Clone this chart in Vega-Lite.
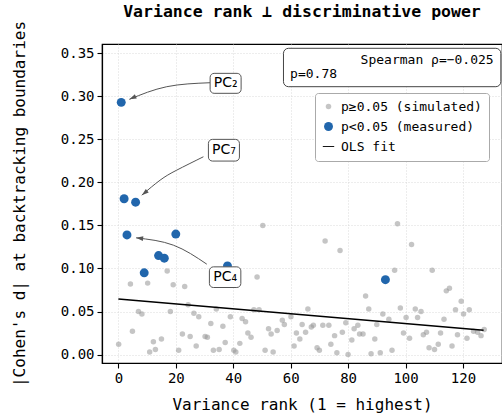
{
  "$schema": "https://vega.github.io/schema/vega-lite/v6.json",
  "width": 400,
  "height": 319,
  "autosize": {"type": "none"},
  "padding": {"left": 102, "top": 44, "right": 0, "bottom": 55},
  "background": "white",
  "config": {
    "view": {"stroke": "black", "strokeWidth": 1.2},
    "font": "DejaVu Sans Mono",
    "axis": {
      "labelFont": "DejaVu Sans Mono", "labelFontSize": 14, "labelColor": "black",
      "titleFont": "DejaVu Sans Mono", "titleFontSize": 16, "titleFontWeight": "normal", "titleColor": "black",
      "domainColor": "black", "domainWidth": 1.2, "tickColor": "black", "tickSize": 5, "tickWidth": 1.1,
      "gridColor": "#d0d0d0", "gridDash": [1, 2], "gridWidth": 0.8, "labelPadding": 3
    },
    "legend": {
      "labelFont": "DejaVu Sans Mono", "labelFontSize": 13, "labelColor": "black", "labelOffset": 6, "rowPadding": 6,
      "padding": 7, "strokeColor": "#aaaaaa", "cornerRadius": 3, "fillColor": "white"
    }
  },
  "title": {"text": "Variance rank \u22a5 discriminative power", "font": "DejaVu Sans Mono", "fontSize": 16.5, "fontWeight": "bold", "anchor": "middle", "offset": 0, "color": "black"},
  "datasets": {
    "pts": [
      {"rank": 4.2, "d": 0.082, "group": "p\u22650.05 (simulated)"},
      {"rank": 10.2, "d": 0.083, "group": "p\u22650.05 (simulated)"},
      {"rank": 19.1, "d": 0.081, "group": "p\u22650.05 (simulated)"},
      {"rank": 23.1, "d": 0.079, "group": "p\u22650.05 (simulated)"},
      {"rank": 24.3, "d": 0.058, "group": "p\u22650.05 (simulated)"},
      {"rank": 7.0, "d": 0.050, "group": "p\u22650.05 (simulated)"},
      {"rank": 8.2, "d": 0.047, "group": "p\u22650.05 (simulated)"},
      {"rank": 18.1, "d": 0.050, "group": "p\u22650.05 (simulated)"},
      {"rank": 26.3, "d": 0.048, "group": "p\u22650.05 (simulated)"},
      {"rank": 28.0, "d": 0.044, "group": "p\u22650.05 (simulated)"},
      {"rank": 4.9, "d": 0.027, "group": "p\u22650.05 (simulated)"},
      {"rank": 22.3, "d": 0.024, "group": "p\u22650.05 (simulated)"},
      {"rank": 25.0, "d": 0.021, "group": "p\u22650.05 (simulated)"},
      {"rank": 0.1, "d": 0.012, "group": "p\u22650.05 (simulated)"},
      {"rank": 12.2, "d": 0.015, "group": "p\u22650.05 (simulated)"},
      {"rank": 15.0, "d": 0.018, "group": "p\u22650.05 (simulated)"},
      {"rank": 27.1, "d": 0.010, "group": "p\u22650.05 (simulated)"},
      {"rank": 10.9, "d": 0.003, "group": "p\u22650.05 (simulated)"},
      {"rank": 12.9, "d": 0.006, "group": "p\u22650.05 (simulated)"},
      {"rank": 21.0, "d": 0.005, "group": "p\u22650.05 (simulated)"},
      {"rank": 50.3, "d": 0.150, "group": "p\u22650.05 (simulated)"},
      {"rank": 17.0, "d": 0.097, "group": "p\u22650.05 (simulated)"},
      {"rank": 48.3, "d": 0.090, "group": "p\u22650.05 (simulated)"},
      {"rank": 34.1, "d": 0.053, "group": "p\u22650.05 (simulated)"},
      {"rank": 32.2, "d": 0.036, "group": "p\u22650.05 (simulated)"},
      {"rank": 36.4, "d": 0.033, "group": "p\u22650.05 (simulated)"},
      {"rank": 39.0, "d": 0.044, "group": "p\u22650.05 (simulated)"},
      {"rank": 43.1, "d": 0.042, "group": "p\u22650.05 (simulated)"},
      {"rank": 44.3, "d": 0.038, "group": "p\u22650.05 (simulated)"},
      {"rank": 47.2, "d": 0.052, "group": "p\u22650.05 (simulated)"},
      {"rank": 49.0, "d": 0.052, "group": "p\u22650.05 (simulated)"},
      {"rank": 45.1, "d": 0.025, "group": "p\u22650.05 (simulated)"},
      {"rank": 46.2, "d": 0.020, "group": "p\u22650.05 (simulated)"},
      {"rank": 52.3, "d": 0.030, "group": "p\u22650.05 (simulated)"},
      {"rank": 53.2, "d": 0.024, "group": "p\u22650.05 (simulated)"},
      {"rank": 55.3, "d": 0.028, "group": "p\u22650.05 (simulated)"},
      {"rank": 57.1, "d": 0.040, "group": "p\u22650.05 (simulated)"},
      {"rank": 57.8, "d": 0.035, "group": "p\u22650.05 (simulated)"},
      {"rank": 60.1, "d": 0.044, "group": "p\u22650.05 (simulated)"},
      {"rank": 30.2, "d": 0.021, "group": "p\u22650.05 (simulated)"},
      {"rank": 31.0, "d": 0.020, "group": "p\u22650.05 (simulated)"},
      {"rank": 37.2, "d": 0.014, "group": "p\u22650.05 (simulated)"},
      {"rank": 42.3, "d": 0.013, "group": "p\u22650.05 (simulated)"},
      {"rank": 33.1, "d": 0.005, "group": "p\u22650.05 (simulated)"},
      {"rank": 35.1, "d": 0.006, "group": "p\u22650.05 (simulated)"},
      {"rank": 40.2, "d": 0.005, "group": "p\u22650.05 (simulated)"},
      {"rank": 40.9, "d": 0.003, "group": "p\u22650.05 (simulated)"},
      {"rank": 51.1, "d": 0.005, "group": "p\u22650.05 (simulated)"},
      {"rank": 53.9, "d": 0.003, "group": "p\u22650.05 (simulated)"},
      {"rank": 86.1, "d": 0.068, "group": "p\u22650.05 (simulated)"},
      {"rank": 87.2, "d": 0.053, "group": "p\u22650.05 (simulated)"},
      {"rank": 66.0, "d": 0.053, "group": "p\u22650.05 (simulated)"},
      {"rank": 92.1, "d": 0.047, "group": "p\u22650.05 (simulated)"},
      {"rank": 94.2, "d": 0.041, "group": "p\u22650.05 (simulated)"},
      {"rank": 64.0, "d": 0.035, "group": "p\u22650.05 (simulated)"},
      {"rank": 67.2, "d": 0.032, "group": "p\u22650.05 (simulated)"},
      {"rank": 67.9, "d": 0.034, "group": "p\u22650.05 (simulated)"},
      {"rank": 71.2, "d": 0.034, "group": "p\u22650.05 (simulated)"},
      {"rank": 73.3, "d": 0.034, "group": "p\u22650.05 (simulated)"},
      {"rank": 79.2, "d": 0.037, "group": "p\u22650.05 (simulated)"},
      {"rank": 82.1, "d": 0.030, "group": "p\u22650.05 (simulated)"},
      {"rank": 83.4, "d": 0.034, "group": "p\u22650.05 (simulated)"},
      {"rank": 90.0, "d": 0.035, "group": "p\u22650.05 (simulated)"},
      {"rank": 62.0, "d": 0.025, "group": "p\u22650.05 (simulated)"},
      {"rank": 65.2, "d": 0.026, "group": "p\u22650.05 (simulated)"},
      {"rank": 63.2, "d": 0.018, "group": "p\u22650.05 (simulated)"},
      {"rank": 75.3, "d": 0.022, "group": "p\u22650.05 (simulated)"},
      {"rank": 78.0, "d": 0.026, "group": "p\u22650.05 (simulated)"},
      {"rank": 84.0, "d": 0.024, "group": "p\u22650.05 (simulated)"},
      {"rank": 85.2, "d": 0.024, "group": "p\u22650.05 (simulated)"},
      {"rank": 81.3, "d": 0.017, "group": "p\u22650.05 (simulated)"},
      {"rank": 89.3, "d": 0.018, "group": "p\u22650.05 (simulated)"},
      {"rank": 61.2, "d": 0.010, "group": "p\u22650.05 (simulated)"},
      {"rank": 74.0, "d": 0.012, "group": "p\u22650.05 (simulated)"},
      {"rank": 69.2, "d": 0.008, "group": "p\u22650.05 (simulated)"},
      {"rank": 70.0, "d": 0.005, "group": "p\u22650.05 (simulated)"},
      {"rank": 76.1, "d": 0.002, "group": "p\u22650.05 (simulated)"},
      {"rank": 80.0, "d": 0.000, "group": "p\u22650.05 (simulated)"},
      {"rank": 88.0, "d": 0.001, "group": "p\u22650.05 (simulated)"},
      {"rank": 91.2, "d": 0.002, "group": "p\u22650.05 (simulated)"},
      {"rank": 114.2, "d": 0.074, "group": "p\u22650.05 (simulated)"},
      {"rank": 115.3, "d": 0.077, "group": "p\u22650.05 (simulated)"},
      {"rank": 119.4, "d": 0.062, "group": "p\u22650.05 (simulated)"},
      {"rank": 98.2, "d": 0.054, "group": "p\u22650.05 (simulated)"},
      {"rank": 103.4, "d": 0.053, "group": "p\u22650.05 (simulated)"},
      {"rank": 105.4, "d": 0.050, "group": "p\u22650.05 (simulated)"},
      {"rank": 117.4, "d": 0.052, "group": "p\u22650.05 (simulated)"},
      {"rank": 122.2, "d": 0.052, "group": "p\u22650.05 (simulated)"},
      {"rank": 100.2, "d": 0.043, "group": "p\u22650.05 (simulated)"},
      {"rank": 104.2, "d": 0.043, "group": "p\u22650.05 (simulated)"},
      {"rank": 120.2, "d": 0.047, "group": "p\u22650.05 (simulated)"},
      {"rank": 113.4, "d": 0.041, "group": "p\u22650.05 (simulated)"},
      {"rank": 99.3, "d": 0.025, "group": "p\u22650.05 (simulated)"},
      {"rank": 101.4, "d": 0.019, "group": "p\u22650.05 (simulated)"},
      {"rank": 106.2, "d": 0.023, "group": "p\u22650.05 (simulated)"},
      {"rank": 107.3, "d": 0.026, "group": "p\u22650.05 (simulated)"},
      {"rank": 112.2, "d": 0.025, "group": "p\u22650.05 (simulated)"},
      {"rank": 118.1, "d": 0.023, "group": "p\u22650.05 (simulated)"},
      {"rank": 121.4, "d": 0.019, "group": "p\u22650.05 (simulated)"},
      {"rank": 123.7, "d": 0.027, "group": "p\u22650.05 (simulated)"},
      {"rank": 125.1, "d": 0.026, "group": "p\u22650.05 (simulated)"},
      {"rank": 126.3, "d": 0.022, "group": "p\u22650.05 (simulated)"},
      {"rank": 127.4, "d": 0.029, "group": "p\u22650.05 (simulated)"},
      {"rank": 95.3, "d": 0.005, "group": "p\u22650.05 (simulated)"},
      {"rank": 108.2, "d": 0.008, "group": "p\u22650.05 (simulated)"},
      {"rank": 110.1, "d": 0.006, "group": "p\u22650.05 (simulated)"},
      {"rank": 111.4, "d": 0.012, "group": "p\u22650.05 (simulated)"},
      {"rank": 116.2, "d": 0.010, "group": "p\u22650.05 (simulated)"},
      {"rank": 97.2, "d": 0.152, "group": "p\u22650.05 (simulated)"},
      {"rank": 72.0, "d": 0.132, "group": "p\u22650.05 (simulated)"},
      {"rank": 77.2, "d": 0.121, "group": "p\u22650.05 (simulated)"},
      {"rank": 102.1, "d": 0.128, "group": "p\u22650.05 (simulated)"},
      {"rank": 96.2, "d": 0.098, "group": "p\u22650.05 (simulated)"},
      {"rank": 109.3, "d": 0.098, "group": "p\u22650.05 (simulated)"},
      {"rank": 1, "d": 0.293, "group": "p<0.05 (measured)"},
      {"rank": 2, "d": 0.181, "group": "p<0.05 (measured)"},
      {"rank": 6, "d": 0.177, "group": "p<0.05 (measured)"},
      {"rank": 3, "d": 0.139, "group": "p<0.05 (measured)"},
      {"rank": 20, "d": 0.140, "group": "p<0.05 (measured)"},
      {"rank": 14, "d": 0.115, "group": "p<0.05 (measured)"},
      {"rank": 16, "d": 0.112, "group": "p<0.05 (measured)"},
      {"rank": 9, "d": 0.095, "group": "p<0.05 (measured)"},
      {"rank": 38, "d": 0.103, "group": "p<0.05 (measured)"},
      {"rank": 93, "d": 0.087, "group": "p<0.05 (measured)"}
    ],
    "fit": [{"rank": 0, "d": 0.0646}, {"rank": 127.2, "d": 0.0283}],
    "arrows": [
      {"id": "PC2", "ord": 0, "rank": 31.95, "d": 0.3158},
      {"id": "PC2", "ord": 1, "rank": 16.86, "d": 0.3112},
      {"id": "PC2", "ord": 2, "rank": 3.83, "d": 0.2965},
      {"id": "PC7", "ord": 0, "rank": 29.62, "d": 0.2298},
      {"id": "PC7", "ord": 1, "rank": 20.35, "d": 0.2143},
      {"id": "PC7", "ord": 2, "rank": 14.53, "d": 0.2026},
      {"id": "PC7", "ord": 3, "rank": 8.15, "d": 0.1852},
      {"id": "PC4", "ord": 0, "rank": 30.8, "d": 0.105},
      {"id": "PC4", "ord": 1, "rank": 19.16, "d": 0.1271},
      {"id": "PC4", "ord": 2, "rank": 6.17, "d": 0.1356}
    ],
    "labels": [
      {"label": "PC\u2082", "rank": 37.35, "d": 0.3151, "rank1": 31.95, "rank2": 42.75, "d1": 0.3267, "d2": 0.3035},
      {"label": "PC\u2087", "rank": 36.76, "d": 0.2373, "rank1": 31.36, "rank2": 42.16, "d1": 0.25, "d2": 0.2248},
      {"label": "PC\u2084", "rank": 37.18, "d": 0.0899, "rank1": 31.7, "rank2": 42.65, "d1": 0.1019, "d2": 0.0779}
    ]
  },
  "encoding": {
    "x": {
      "field": "rank", "type": "quantitative",
      "scale": {"domain": [-5.7, 133.6], "nice": false, "zero": false},
      "axis": {"values": [0, 20, 40, 60, 80, 100, 120], "title": "Variance rank (1 = highest)", "titleX": 200, "titleY": 41, "titleBaseline": "middle", "grid": true}
    },
    "y": {
      "field": "d", "type": "quantitative",
      "scale": {"domain": [-0.0098, 0.3608], "nice": false, "zero": false},
      "axis": {"values": [0, 0.05, 0.1, 0.15, 0.2, 0.25, 0.3, 0.35], "format": ".2f", "title": "|Cohen's d| at backtracking boundaries", "titleX": -83, "titleY": 159.5, "titleAngle": 270, "titleAlign": "center", "titleBaseline": "middle", "grid": true}
    }
  },
  "layer": [
    {
      "data": {"name": "pts"},
      "mark": {"type": "point", "filled": true, "opacity": 1, "strokeWidth": 0},
      "encoding": {
        "color": {
          "field": "group", "type": "nominal",
          "scale": {"domain": ["p\u22650.05 (simulated)", "p<0.05 (measured)", "OLS fit"], "range": ["rgba(150,150,150,0.55)", "#2166ac", "black"]},
          "legend": {"title": null, "orient": "none", "legendX": 213, "legendY": 49}
        },
        "size": {
          "field": "group", "type": "nominal",
          "scale": {"domain": ["p\u22650.05 (simulated)", "p<0.05 (measured)", "OLS fit"], "range": [30, 130, 361]},
          "legend": {"title": null, "orient": "none", "legendX": 213, "legendY": 49}
        },
        "shape": {
          "field": "group", "type": "nominal",
          "scale": {"domain": ["p\u22650.05 (simulated)", "p<0.05 (measured)", "OLS fit"], "range": ["circle", "circle", "M-1,-0.08L1,-0.08L1,0.08L-1,0.08Z"]},
          "legend": {"title": null, "orient": "none", "legendX": 213, "legendY": 49}
        }
      }
    },
    {
      "data": {"name": "fit"},
      "mark": {"type": "line", "color": "black", "strokeWidth": 1.5},
      "encoding": {}
    },
    {
      "data": {"values": [{"rank": 57.5, "rank2": 133.2, "d": 0.3558, "d2": 0.3112}]},
      "mark": {"type": "rect", "fill": "white", "stroke": "#444444", "strokeWidth": 1, "cornerRadius": 5},
      "encoding": {"x2": {"field": "rank2"}, "y2": {"field": "d2"}}
    },
    {
      "data": {"values": [{"rank": 130.7, "d": 0.3422, "t": "Spearman \u03c1=\u22120.025"}]},
      "mark": {"type": "text", "align": "right", "baseline": "middle", "font": "DejaVu Sans Mono", "fontSize": 13, "color": "black"},
      "encoding": {"text": {"field": "t"}}
    },
    {
      "data": {"values": [{"rank": 59.8, "d": 0.3256, "t": "p=0.78"}]},
      "mark": {"type": "text", "align": "left", "baseline": "middle", "font": "DejaVu Sans Mono", "fontSize": 13, "color": "black"},
      "encoding": {"text": {"field": "t"}}
    },
    {
      "data": {"name": "arrows"},
      "mark": {"type": "line", "interpolate": "natural", "color": "#555555", "strokeWidth": 1},
      "encoding": {"detail": {"field": "id"}, "order": {"field": "ord", "type": "quantitative"}}
    },
    {
      "data": {"values": [{"rank": 3.83, "d": 0.2965}]},
      "mark": {"type": "point", "shape": "M0,0L-0.33,1L0.33,1Z", "filled": true, "color": "#555555", "size": 200, "angle": 246, "opacity": 1},
      "encoding": {}
    },
    {
      "data": {"values": [{"rank": 8.15, "d": 0.1852}]},
      "mark": {"type": "point", "shape": "M0,0L-0.33,1L0.33,1Z", "filled": true, "color": "#555555", "size": 200, "angle": 231, "opacity": 1},
      "encoding": {}
    },
    {
      "data": {"values": [{"rank": 6.17, "d": 0.1356}]},
      "mark": {"type": "point", "shape": "M0,0L-0.33,1L0.33,1Z", "filled": true, "color": "#555555", "size": 200, "angle": 276, "opacity": 1},
      "encoding": {}
    },
    {
      "data": {"name": "labels"},
      "mark": {"type": "rect", "fill": "white", "stroke": "#555555", "strokeWidth": 1, "cornerRadius": 4},
      "encoding": {"x": {"field": "rank1", "type": "quantitative"}, "x2": {"field": "rank2"}, "y": {"field": "d1", "type": "quantitative"}, "y2": {"field": "d2"}}
    },
    {
      "data": {"name": "labels"},
      "mark": {"type": "text", "align": "center", "baseline": "middle", "font": "DejaVu Sans", "fontSize": 14, "color": "black"},
      "encoding": {"text": {"field": "label"}}
    }
  ]
}
